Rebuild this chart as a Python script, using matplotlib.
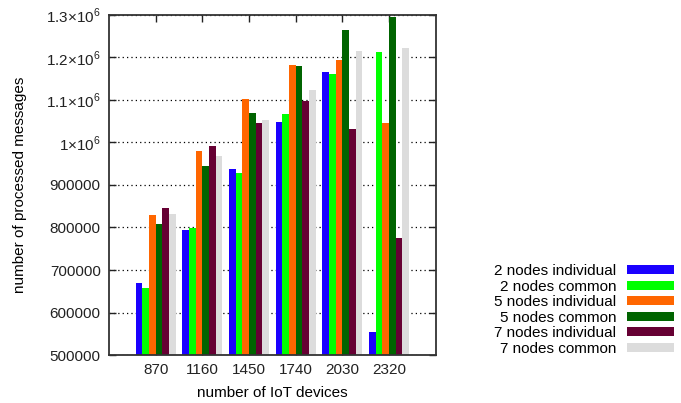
import matplotlib
matplotlib.use("Agg")
import matplotlib.pyplot as plt
import numpy as np

plt.rcParams['font.family'] = ['Liberation Sans', 'DejaVu Sans']
plt.rcParams['mathtext.fontset'] = 'custom'
plt.rcParams['mathtext.rm'] = 'Liberation Sans'

devices = ["870", "1160", "1450", "1740", "2030", "2320"]
series_names = ["2 nodes individual", "2 nodes common", "5 nodes individual",
                "5 nodes common", "7 nodes individual", "7 nodes common"]
colors = ["#1a00ff", "#00ff00", "#ff6600", "#006400", "#660033", "#dcdcdc"]

ind2 = [669000, 794000, 937500, 1047500, 1166000, 555000]
com2 = [658000, 799000, 927500, 1066000, 1161000, 1213000]
ind5 = [829500, 980700, 1103000, 1182000, 1195000, 1046500]
com5 = [809000, 945000, 1070000, 1180000, 1264000, 1294000]
ind7 = [846000, 991000, 1045000, 1097500, 1031000, 776000]
com7 = [832000, 968000, 1052000, 1123500, 1215000, 1223000]
series = [ind2, com2, ind5, com5, ind7, com7]

ytick_vals = [500000, 600000, 700000, 800000, 900000, 1000000, 1100000, 1200000, 1300000]
ytick_labels = ["500000", "600000", "700000", "800000", "900000",
                r"1$\times$10$^{6}$", r"1.1$\times$10$^{6}$",
                r"1.2$\times$10$^{6}$", r"1.3$\times$10$^{6}$"]

fig = plt.figure(figsize=(6.81, 4.03), dpi=100)
ax = fig.add_axes([0.160, 0.119, 0.480, 0.844])

x = np.arange(len(devices))
w = 1 / 7
for i, (vals, name, c) in enumerate(zip(series, series_names, colors)):
    ax.bar(x + (i - 2.5) * w, vals, width=w, bottom=0, color=c, label=name,
           linewidth=0, zorder=2)

ax.set_xlim(-1, 6)
ax.set_ylim(500000, 1300000)
ax.set_xticks(x)
ax.set_xticklabels(devices)
ax.set_yticks(ytick_vals)
ax.set_yticklabels(ytick_labels)
ax.tick_params(direction='in', length=5, width=1, top=True, right=True,
               labelsize=11, pad=6, colors='#222222')
ax.yaxis.grid(True, linestyle=(0, (1, 2.5)), color='black', linewidth=0.9, zorder=1)
ax.set_axisbelow(True)
for s in ax.spines.values():
    s.set_linewidth(1.3)
    s.set_color('#333333')

ax.set_xlabel("number of IoT devices", fontsize=11, labelpad=6)
ax.set_ylabel("number of processed messages", fontsize=11, labelpad=14)

ax.legend(loc='lower left', bbox_to_anchor=(1.16, -0.02), frameon=False,
          markerfirst=False, fontsize=11, handlelength=3.1, handleheight=0.5,
          labelspacing=0.1, borderaxespad=0, handletextpad=0.7)

fig.savefig("out.png", dpi=100)
